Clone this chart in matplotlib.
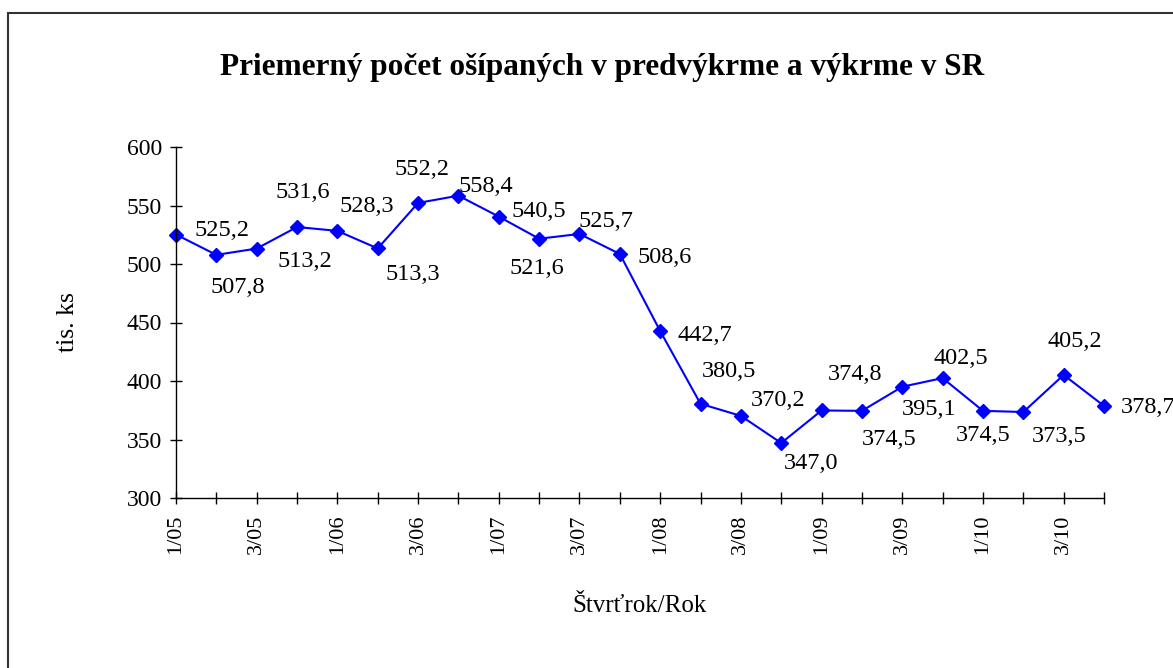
import matplotlib
matplotlib.use("Agg")
import matplotlib.pyplot as plt
from matplotlib.patches import Rectangle

# quarterly data 2005-2010
quarters = ["1/05", "2/05", "3/05", "4/05", "1/06", "2/06", "3/06", "4/06",
            "1/07", "2/07", "3/07", "4/07", "1/08", "2/08", "3/08", "4/08",
            "1/09", "2/09", "3/09", "4/09", "1/10", "2/10", "3/10", "4/10"]
pigs = [525.2, 507.8, 513.2, 531.6, 528.3, 513.3, 552.2, 558.4,
        540.5, 521.6, 525.7, 508.6, 442.7, 380.5, 370.2, 347.0,
        374.8, 374.5, 395.1, 402.5, 374.5, 373.5, 405.2, 378.7]

# label offsets in pixels (dx right, dy up)
lbl_off = [(46, 4), (21, -33), (48, -13), (6, 35), (29, 24), (35, -26),
           (4, 33), (27, 9), (40, 5), (-2, -30), (27, 12), (45, -4),
           (45, -4), (28, 32), (37, 15), (30, -20), (33, 36), (27, -29),
           (27, -23), (18, 20), (0, -25), (36, -24), (11, 33), (44, -2)]

plt.rcParams['font.family'] = ['Liberation Serif', 'DejaVu Serif']

fig = plt.figure(figsize=(11.73, 6.68), dpi=100)
ax = fig.add_axes([176/1173, 1 - 498/668, (1104-176)/1173, (498-147)/668])

x = list(range(len(pigs)))
ax.plot(x, pigs, color='#0000ff', lw=1.5, marker='D', ms=7, mec='#0000ff', mfc='#0000ff', clip_on=False)

for i, v in enumerate(pigs):
    ax.annotate(('%.1f' % v).replace('.', ','), (i, v), xytext=lbl_off[i],
                textcoords='offset pixels', ha='center', va='center', fontsize=17.5,
                annotation_clip=False)

ax.set_xlim(0, len(pigs) - 1)
ax.set_ylim(300, 600)
ax.set_yticks(range(300, 601, 50))
ax.set_xticks(x)
ax.set_xticklabels([q if i % 2 == 0 else '' for i, q in enumerate(quarters)], rotation=90, fontsize=16)
ax.tick_params(axis='y', labelsize=17, direction='inout', length=8, width=1, pad=6)
ax.tick_params(axis='x', direction='inout', length=8, width=1, pad=8)

for s in ['top', 'right']:
    ax.spines[s].set_visible(False)
ax.spines['left'].set_linewidth(1)
ax.spines['bottom'].set_linewidth(1)

fig.text(640/1173, 1 - 606/668, 'Štvrťrok/Rok', ha='center', va='center', fontsize=18)
fig.text(68/1173, 1 - 322/668, 'tis. ks', ha='center', va='center', rotation=90, fontsize=18.5)
fig.text(602/1173, 1 - 68/668, 'Priemerný počet ošípaných v predvýkrme a výkrme v SR',
         ha='center', va='center', fontsize=22.5, fontweight='bold')

# chart frame (only left and top edges visible in the crop)
fig.patches.append(Rectangle((8/1173, -0.2), 1.2, 1.2 - 13/668, transform=fig.transFigure,
                             fill=False, ec='#333333', lw=1.5))

fig.savefig('out.png', dpi=100)
